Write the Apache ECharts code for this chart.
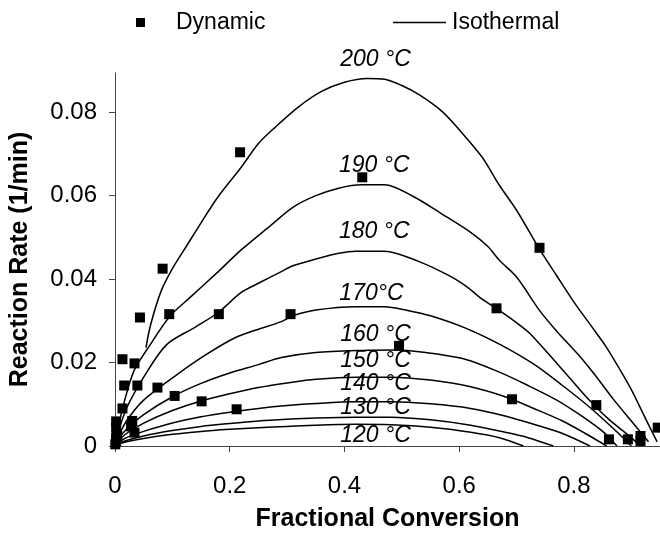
<!DOCTYPE html>
<html>
<head>
<meta charset="utf-8">
<script src="https://cdn.jsdelivr.net/npm/echarts@6/dist/echarts.min.js"></script>
<style>html,body{margin:0;padding:0;background:#fff}#c{width:660px;height:537px}</style>
</head>
<body>
<div id="c"></div>
<script>
// ---- data ----
const xTicks = [0, 0.2, 0.4, 0.6, 0.8];
const yTicks = [0, 0.02, 0.04, 0.06, 0.08];

const dynamic = [
  [0.0005,0.0004],[0.002,0.0012],[0.002,0.002],[0.004,0.0024],[0.002,0.0044],[0.002,0.0059],
  [0.013,0.009],[0.016,0.0145],[0.013,0.0208],[0.034,0.0198],[0.028,0.0047],[0.034,0.0032],
  [0.03,0.006],[0.039,0.0145],[0.0435,0.0308],[0.074,0.014],[0.083,0.0425],[0.0945,0.0316],
  [0.104,0.012],[0.151,0.0107],[0.181,0.0316],[0.212,0.0088],[0.218,0.0704],[0.306,0.0316],
  [0.431,0.0644],[0.495,0.024],[0.665,0.033],[0.692,0.0112],[0.74,0.0475],[0.839,0.0098],
  [0.861,0.0016],[0.894,0.0016],[0.916,0.0012],[0.916,0.0024],[0.946,0.0044]
];

const iso200 = [[0.054,0.0236],[0.062,0.029],[0.08,0.037],[0.1,0.0425],[0.125,0.048],[0.15,0.0535],[0.18,0.0598],[0.22,0.0668],[0.25,0.0725],[0.28,0.0765],[0.32,0.0813],[0.36,0.085],[0.4,0.0872],[0.44,0.0881],[0.47,0.0879],[0.5,0.0864],[0.53,0.0842],[0.57,0.0802],[0.6,0.0758],[0.64,0.0692],[0.67,0.0625],[0.7,0.0565],[0.74,0.0472],[0.77,0.0408],[0.8,0.0345],[0.83,0.0288],[0.855,0.024],[0.875,0.0195],[0.9,0.0135],[0.925,0.0065],[0.945,0.001]];
const iso190 = [[0.005,0.004],[0.015,0.01],[0.033,0.018],[0.06,0.024],[0.095,0.031],[0.13,0.0355],[0.18,0.0418],[0.22,0.047],[0.27,0.0527],[0.31,0.0572],[0.35,0.06],[0.39,0.0618],[0.43,0.0626],[0.47,0.0626],[0.52,0.0598],[0.57,0.0556],[0.62,0.0512],[0.65,0.0478],[0.67,0.0445],[0.7,0.0405],[0.74,0.0325],[0.77,0.0275],[0.81,0.0215],[0.835,0.0173],[0.87,0.011],[0.9,0.006],[0.93,0.001]];
const iso180 = [[0.005,0.003],[0.02,0.009],[0.05,0.0165],[0.09,0.0243],[0.14,0.0285],[0.18,0.032],[0.22,0.0368],[0.25,0.039],[0.29,0.0418],[0.31,0.0432],[0.35,0.0448],[0.39,0.0462],[0.42,0.0467],[0.47,0.0467],[0.53,0.0442],[0.58,0.041],[0.61,0.0385],[0.64,0.0352],[0.67,0.0325],[0.71,0.0285],[0.725,0.0267],[0.78,0.0183],[0.82,0.012],[0.86,0.0065],[0.9,0.002],[0.915,0]];
const iso170 = [[0.005,0.002],[0.02,0.006],[0.05,0.011],[0.11,0.0173],[0.16,0.022],[0.21,0.026],[0.25,0.028],[0.29,0.0298],[0.31,0.0312],[0.35,0.0326],[0.42,0.0334],[0.47,0.0334],[0.51,0.0325],[0.55,0.0312],[0.61,0.0283],[0.67,0.0244],[0.73,0.0196],[0.78,0.0145],[0.83,0.009],[0.87,0.004],[0.9,0]];
const iso160 = [[0.005,0.0015],[0.02,0.004],[0.05,0.0075],[0.1,0.0118],[0.15,0.015],[0.2,0.0175],[0.25,0.0195],[0.29,0.0212],[0.35,0.0224],[0.43,0.0229],[0.49,0.023],[0.53,0.0226],[0.61,0.0208],[0.67,0.0177],[0.72,0.0145],[0.77,0.011],[0.81,0.0075],[0.85,0.0035],[0.875,0]];
const iso150 = [[0.005,0.001],[0.02,0.003],[0.05,0.0055],[0.1,0.0085],[0.15,0.0108],[0.2,0.0125],[0.25,0.014],[0.3,0.0151],[0.35,0.016],[0.42,0.0165],[0.48,0.0165],[0.55,0.0158],[0.62,0.0142],[0.68,0.0118],[0.73,0.009],[0.78,0.006],[0.82,0.003],[0.857,0]];
const iso140 = [[0.005,0.0007],[0.02,0.002],[0.05,0.0035],[0.1,0.0055],[0.15,0.007],[0.2,0.0081],[0.25,0.009],[0.3,0.0097],[0.35,0.0102],[0.42,0.0106],[0.48,0.0106],[0.55,0.0101],[0.62,0.009],[0.68,0.0072],[0.73,0.0052],[0.78,0.003],[0.828,0]];
const iso130 = [[0.005,0.0005],[0.02,0.0013],[0.05,0.0024],[0.1,0.0037],[0.15,0.0047],[0.2,0.0054],[0.25,0.006],[0.3,0.0064],[0.35,0.0067],[0.42,0.0069],[0.48,0.0069],[0.55,0.0063],[0.62,0.005],[0.68,0.0033],[0.72,0.002],[0.764,0]];
const iso120 = [[0.005,0.0004],[0.02,0.001],[0.05,0.0018],[0.1,0.0028],[0.15,0.0035],[0.2,0.004],[0.25,0.0044],[0.3,0.0047],[0.35,0.005],[0.42,0.0052],[0.48,0.0051],[0.55,0.0045],[0.62,0.0033],[0.67,0.002],[0.712,0]];

const curveNames = ['200 °C','190 °C','180 °C','170°C','160 °C','150 °C','140 °C','130 °C','120 °C'];
const labelX = [0.454, 0.452, 0.452, 0.447, 0.454, 0.454, 0.454, 0.454, 0.454];
const labelY = [0.0926, 0.0672, 0.0514, 0.0365, 0.0267, 0.0204, 0.0149, 0.0091, 0.0024];
const curves = [iso200, iso190, iso180, iso170, iso160, iso150, iso140, iso130, iso120];

// ---- chart ----
const FONT = "'Liberation Sans', Arial, sans-serif";
const chart = echarts.init(document.getElementById('c'), null, {renderer: 'canvas'});

const lineSeries = curves.map(d => ({
  name: 'Isothermal', type: 'line', data: d, symbol: 'none', smooth: 0.3,
  lineStyle: {color: '#000', width: 1.5}, itemStyle: {color: '#000'}, z: 2, silent: true
}));

const labelData = curveNames.map((n, i) => [labelX[i], labelY[i], n]);

chart.setOption({
  animation: false,
  textStyle: {fontFamily: FONT},
  grid: {left: 114, top: 73, width: 546, height: 380, containLabel: false},
  legend: [
    {data: ['Dynamic'], left: 131, top: 6, icon: 'rect', itemWidth: 9, itemHeight: 9,
     textStyle: {fontSize: 23, color: '#000', fontFamily: FONT, padding: [0, 0, 0, 26]}},
    {data: ['Isothermal'], left: 388, top: 6, icon: 'rect', itemWidth: 53, itemHeight: 1.5,
     itemStyle: {color: '#000'},
     textStyle: {fontSize: 23, color: '#000', fontFamily: FONT, padding: [0, 0, 0, 1]}}
  ],
  xAxis: {
    type: 'value', min: 0, max: 0.95,
    name: 'Fractional Conversion', nameLocation: 'middle', nameGap: 61,
    nameTextStyle: {fontSize: 25, fontWeight: 'bold', color: '#000', fontFamily: FONT},
    axisLine: {lineStyle: {color: '#444', width: 1}},
    axisTick: {show: true, length: 6, lineStyle: {color: '#444'}, customValues: xTicks},
    axisLabel: {fontSize: 24, color: '#000', margin: 28, customValues: xTicks,
      formatter: v => String(+v.toFixed(2))},
    splitLine: {show: false}
  },
  yAxis: {
    type: 'value', min: 0, max: 0.0894,
    name: 'Reaction Rate (1/min)', nameLocation: 'middle', nameGap: 82,
    nameTextStyle: {fontSize: 25, fontWeight: 'bold', color: '#000', fontFamily: FONT},
    axisLine: {show: true, lineStyle: {color: '#444', width: 1}},
    axisTick: {show: true, length: 6, lineStyle: {color: '#444'}, customValues: yTicks},
    axisLabel: {fontSize: 24, color: '#000', margin: 18, customValues: yTicks,
      formatter: v => String(+v.toFixed(2))},
    splitLine: {show: false}
  },
  series: [
    ...lineSeries,
    {name: 'Dynamic', type: 'scatter', data: dynamic, symbol: 'rect', symbolSize: 10,
     itemStyle: {color: '#000', opacity: 1}, z: 5, silent: true},
    {name: 'labels', type: 'scatter', data: labelData, symbolSize: 0, clip: false, silent: true,
     itemStyle: {opacity: 1},
     label: {show: true, position: 'inside', formatter: p => p.value[2], fontSize: 23, fontStyle: 'italic',
       color: '#000', opacity: 1, fontFamily: FONT}, z: 6}
  ]
});
</script>
</body>
</html>
